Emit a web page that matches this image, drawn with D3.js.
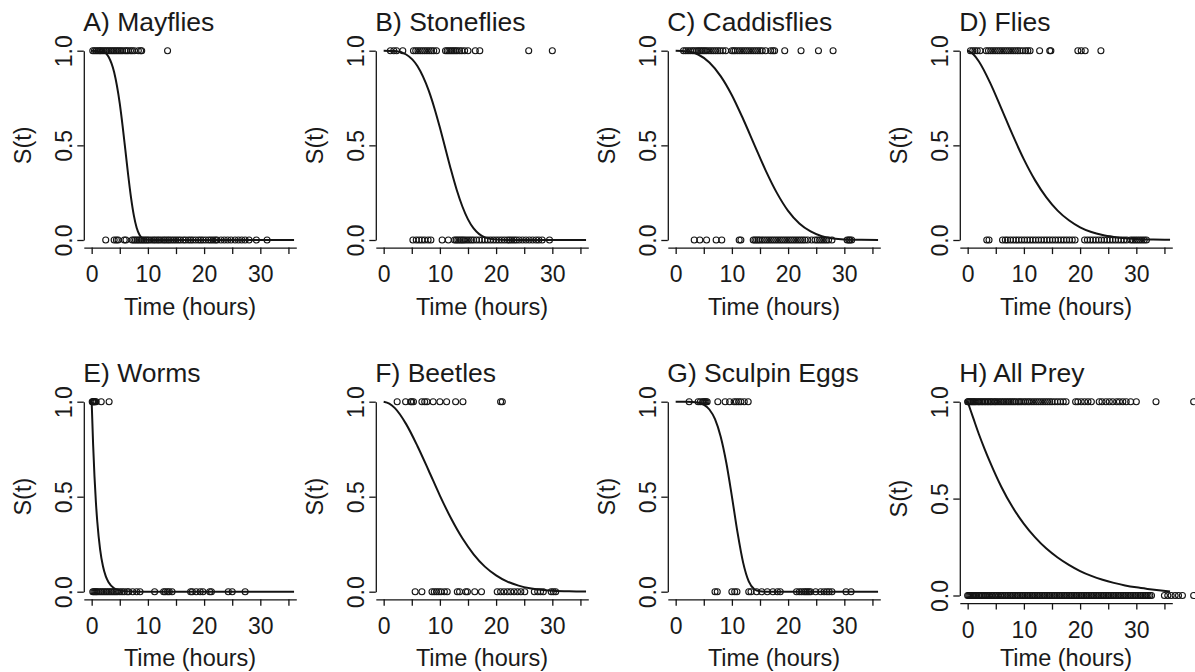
<!DOCTYPE html>
<html>
<head>
<meta charset="utf-8">
<script src="https://cdnjs.cloudflare.com/ajax/libs/d3/7.8.5/d3.min.js"></script>
<style>
  body { margin: 0; background: #ffffff; }
  svg text { font-family: "Liberation Sans", Arial, sans-serif; fill: #1a1a1a; }
</style>
</head>
<body>
<script>
// Panel titles
// =================================
var titles = ["A) Mayflies", "B) Stoneflies", "C) Caddisflies", "D) Flies",
    "E) Worms", "F) Beetles", "G) Sculpin Eggs", "H) All Prey"];

var xTicks = [0, 5, 10, 15, 20, 25, 30, 35];
var yTicks = [0, 0.5, 1];

// Observations (hours) plotted at S(t) = 1 and S(t) = 0
// =================================
var mayfliesOne = [0.2, 0.5, 0.8, 1.1, 1.4, 1.6, 1.9, 2.2, 2.5, 2.8, 3.1, 3.4, 3.7, 4.0, 4.3, 4.6, 4.9, 5.2, 5.5, 5.9, 6.2, 6.5, 6.9, 7.2, 7.6, 8.3, 8.7, 8.9, 13.5];
var mayfliesZero = [2.5, 4.0, 4.4, 4.7, 5.8, 6.1, 7.2, 7.5, 7.8, 8.1, 8.4, 8.7, 9.0, 9.3, 9.6, 9.9, 10.2, 10.6, 11.0, 11.3, 11.7, 12.0, 12.4, 12.8, 13.1, 13.5, 13.8, 14.2, 14.6, 15.0, 15.4, 15.8, 16.3, 16.7, 17.2, 17.6, 18.0, 18.5, 19.0, 19.4, 19.8, 20.3, 20.8, 21.2, 21.6, 22.0, 22.3, 23.0, 23.6, 24.2, 24.8, 25.5, 26.1, 26.7, 27.3, 28.0, 29.3, 31.2];

var stonefliesOne = [1.2, 1.8, 2.3, 3.4, 5.3, 5.7, 6.1, 6.5, 6.9, 7.3, 7.7, 8.1, 8.5, 8.9, 9.4, 11.0, 11.3, 11.6, 11.9, 12.2, 12.5, 12.8, 13.1, 13.5, 13.9, 14.4, 15.0, 16.3, 17.1, 25.8, 30.0];
var stonefliesZero = [5.2, 5.8, 6.3, 6.8, 7.3, 7.9, 8.4, 10.4, 11.5, 12.6, 12.9, 13.2, 13.5, 13.8, 14.1, 14.4, 14.8, 15.2, 15.6, 16.0, 16.5, 17.0, 17.5, 18.0, 18.5, 19.0, 19.5, 20.0, 20.5, 21.0, 21.5, 22.0, 22.4, 22.8, 23.2, 23.6, 24.1, 24.7, 25.3, 25.9, 26.5, 27.1, 27.6, 28.2, 29.5];

var caddisOne = [1.4, 1.8, 2.2, 2.6, 3.0, 3.3, 3.7, 4.0, 4.3, 4.6, 4.9, 5.2, 5.5, 5.9, 6.3, 6.7, 7.1, 7.5, 7.9, 8.4, 8.9, 10.0, 10.3, 10.6, 11.0, 11.4, 11.8, 12.2, 12.6, 13.0, 13.4, 13.8, 14.2, 14.6, 15.0, 15.4, 16.0, 16.9, 17.3, 17.6, 19.4, 22.3, 25.4, 28.0];
var caddisZero = [3.3, 4.3, 5.5, 7.2, 8.2, 11.3, 11.6, 13.8, 14.1, 14.4, 14.7, 15.0, 15.4, 15.8, 16.2, 16.6, 17.0, 17.4, 17.8, 18.2, 18.6, 19.0, 19.4, 19.8, 20.2, 20.6, 21.0, 21.4, 21.8, 22.2, 22.6, 23.0, 23.5, 24.2, 24.8, 25.2, 25.6, 26.0, 26.4, 26.8, 27.2, 27.8, 30.5, 30.8, 31.0, 31.3];

var fliesOne = [0.5, 0.9, 1.3, 1.7, 2.2, 3.3, 3.7, 4.1, 4.5, 4.9, 5.3, 5.7, 6.1, 6.5, 6.9, 7.3, 7.7, 8.1, 8.5, 8.9, 9.3, 9.8, 10.3, 10.7, 11.1, 12.8, 14.6, 14.8, 19.6, 20.2, 20.9, 23.7];
var fliesZero = [3.4, 3.8, 6.2, 6.7, 7.1, 7.6, 8.1, 8.6, 9.1, 9.6, 10.1, 10.6, 11.1, 11.6, 12.1, 12.6, 13.1, 13.6, 14.1, 14.6, 15.1, 15.6, 16.1, 16.6, 17.1, 17.6, 18.1, 18.6, 19.1, 20.8, 21.3, 21.8, 22.3, 22.8, 23.3, 23.8, 24.3, 24.8, 25.3, 25.8, 26.3, 26.8, 27.3, 27.8, 28.3, 29.0, 29.4, 29.8, 30.2, 30.6, 31.0, 31.4, 31.8];

var wormsOne = [0.1, 0.2, 0.3, 0.4, 0.5, 0.6, 0.8, 1.7, 3.1];
var wormsZero = [0.2, 0.4, 0.6, 0.8, 1.0, 1.3, 1.6, 1.9, 2.2, 2.5, 2.8, 3.1, 3.4, 3.7, 4.0, 4.3, 4.6, 5.0, 5.4, 5.8, 6.3, 6.6, 7.3, 8.0, 8.6, 11.2, 12.8, 13.1, 13.5, 13.8, 14.3, 17.6, 17.9, 18.6, 19.3, 19.8, 21.0, 21.3, 24.3, 25.0, 27.3];

var beetlesOne = [2.4, 3.9, 4.8, 5.0, 5.3, 6.8, 7.3, 7.7, 8.8, 10.0, 11.2, 12.8, 14.1, 20.8, 21.1];
var beetlesZero = [5.6, 6.8, 8.6, 9.0, 9.4, 9.8, 10.2, 10.8, 11.3, 13.1, 13.5, 14.6, 14.9, 16.2, 17.4, 20.2, 20.8, 21.4, 22.0, 22.6, 23.2, 23.8, 24.4, 25.1, 26.8, 27.4, 27.9, 28.4, 29.8, 30.2, 30.6];

var eggsOne = [2.4, 4.0, 4.4, 4.8, 5.0, 5.2, 5.4, 5.6, 7.5, 8.8, 9.6, 10.4, 10.8, 11.2, 11.6, 12.2, 12.9];
var eggsZero = [7.0, 7.4, 10.0, 10.5, 10.9, 13.0, 13.4, 14.4, 15.3, 16.3, 17.3, 18.1, 18.6, 21.5, 22.0, 22.4, 22.8, 23.1, 23.4, 23.7, 24.0, 24.9, 25.8, 26.4, 26.9, 27.3, 27.8, 30.3, 31.2];

var allPreyOne = [0.0, 0.1, 0.3, 0.5, 0.7, 0.9, 1.1, 1.3, 1.5, 1.8, 2.0, 2.2, 2.5, 2.7, 3.0, 3.2, 3.5, 3.7, 4.0, 4.2, 4.5, 4.8, 5.0, 5.3, 5.6, 5.9, 6.2, 6.5, 6.8, 7.1, 7.4, 7.7, 8.0, 8.3, 8.6, 9.0, 9.3, 9.6, 10.0, 10.3, 10.7, 11.0, 11.4, 11.8, 12.2, 12.6, 13.0, 13.4, 13.8, 14.2, 14.6, 15.0, 15.5, 16.0, 16.5, 17.0, 17.5, 19.2, 19.6, 20.2, 20.8, 21.4, 22.0, 23.4, 23.9, 24.6, 25.2, 25.8, 26.5, 27.0, 27.6, 28.2, 29.0, 30.0, 33.5, 40.2];
var allPreyZero = [0.0, 0.2, 0.4, 0.6, 0.8, 1.0, 1.2, 1.4, 1.6, 1.9, 2.1, 2.4, 2.6, 2.9, 3.1, 3.4, 3.6, 3.9, 4.2, 4.4, 4.7, 5.0, 5.2, 5.5, 5.8, 6.0, 6.3, 6.6, 6.9, 7.2, 7.5, 7.8, 8.1, 8.4, 8.7, 9.0, 9.3, 9.6, 9.9, 10.2, 10.5, 10.8, 11.1, 11.4, 11.7, 12.0, 12.3, 12.6, 12.9, 13.2, 13.5, 13.8, 14.1, 14.4, 14.7, 15.0, 15.3, 15.6, 15.9, 16.2, 16.5, 16.8, 17.1, 17.4, 17.7, 18.0, 18.3, 18.6, 18.9, 19.2, 19.5, 19.8, 20.1, 20.4, 20.7, 21.0, 21.3, 21.6, 21.9, 22.2, 22.5, 22.8, 23.1, 23.4, 23.7, 24.0, 24.3, 24.6, 24.9, 25.2, 25.5, 25.8, 26.1, 26.4, 26.7, 27.0, 27.3, 27.6, 27.9, 28.2, 28.5, 28.8, 29.1, 29.4, 29.7, 30.0, 30.3, 30.6, 30.9, 31.2, 31.5, 31.8, 32.1, 32.4, 32.7, 35.0, 35.6, 36.2, 36.9, 37.5, 38.2, 40.2];

// Fitted survival curves: hours and S(t)
// =================================
var mayfliesCurveT = [0, 2, 3, 4, 5, 5.5, 6, 6.5, 7, 7.5, 8, 8.5, 9, 10, 11, 13, 36];
var mayfliesCurveS = [1, 0.995, 0.968, 0.886, 0.72, 0.603, 0.473, 0.342, 0.224, 0.13, 0.065, 0.028, 0.01, 0.001, 0, 0, 0];

var stonefliesCurveT = [0, 2, 4, 6, 8, 9, 10, 11, 12, 13, 14, 15, 16, 17, 18, 20, 22, 25, 36];
var stonefliesCurveS = [1, 0.998, 0.98, 0.919, 0.79, 0.699, 0.594, 0.481, 0.368, 0.264, 0.177, 0.109, 0.061, 0.031, 0.014, 0.002, 0.0003, 0, 0];

var caddisCurveT = [0, 2, 4, 6, 8, 10, 12, 14, 16, 18, 20, 22, 24, 26, 28, 30, 33, 36];
var caddisCurveS = [1, 0.997, 0.98, 0.938, 0.866, 0.765, 0.639, 0.503, 0.368, 0.249, 0.154, 0.087, 0.045, 0.02, 0.008, 0.003, 0.001, 0.0003];

var fliesCurveT = [0, 1, 2, 4, 6, 8, 10, 12, 14, 16, 18, 20, 22, 24, 26, 28, 30, 33, 36];
var fliesCurveS = [1, 0.981, 0.943, 0.83, 0.694, 0.555, 0.426, 0.315, 0.225, 0.155, 0.104, 0.067, 0.042, 0.026, 0.016, 0.009, 0.005, 0.002, 0.001];

var wormsCurveT = [0, 0.25, 0.5, 0.75, 1, 1.5, 2, 2.5, 3, 4, 5, 6, 8, 10, 36];
var wormsCurveS = [1, 0.78, 0.607, 0.472, 0.368, 0.223, 0.135, 0.082, 0.05, 0.018, 0.007, 0.0025, 0.0003, 0, 0];

var beetlesCurveT = [0, 1, 2, 4, 6, 8, 10, 12, 14, 16, 18, 20, 22, 24, 26, 28, 30, 33, 36];
var beetlesCurveS = [1, 0.99, 0.966, 0.882, 0.767, 0.638, 0.506, 0.385, 0.281, 0.197, 0.132, 0.086, 0.053, 0.032, 0.018, 0.01, 0.0055, 0.002, 0.0007];

var eggsCurveT = [0, 2, 4, 5, 6, 7, 8, 9, 10, 11, 12, 13, 14, 15, 16, 36];
var eggsCurveS = [1, 1, 0.996, 0.985, 0.959, 0.908, 0.817, 0.68, 0.502, 0.312, 0.153, 0.054, 0.013, 0.002, 0, 0];

var allPreyCurveT = [0, 0.5, 1, 2, 3, 4, 6, 8, 10, 12, 14, 16, 18, 20, 22, 24, 26, 28, 30, 32, 34, 36];
var allPreyCurveS = [1, 0.957, 0.915, 0.832, 0.757, 0.687, 0.56, 0.455, 0.37, 0.30, 0.242, 0.196, 0.158, 0.126, 0.101, 0.081, 0.065, 0.052, 0.042, 0.034, 0.027, 0.021];

// Build the panel table from the arrays above
// =================================
var ones = [mayfliesOne, stonefliesOne, caddisOne, fliesOne, wormsOne, beetlesOne, eggsOne, allPreyOne];
var zeros = [mayfliesZero, stonefliesZero, caddisZero, fliesZero, wormsZero, beetlesZero, eggsZero, allPreyZero];
var curveTs = [mayfliesCurveT, stonefliesCurveT, caddisCurveT, fliesCurveT, wormsCurveT, beetlesCurveT, eggsCurveT, allPreyCurveT];
var curveSs = [mayfliesCurveS, stonefliesCurveS, caddisCurveS, fliesCurveS, wormsCurveS, beetlesCurveS, eggsCurveS, allPreyCurveS];

var panels = titles.map(function (t, i) {
    return {
        title: t,
        ones: ones[i],
        zeros: zeros[i],
        curve: curveTs[i].map(function (h, j) { return [h, curveSs[i][j]]; })
    };
});

// SVG area
// =================================
var svgWidth = 1195;
var svgHeight = 672;

var svg = d3.select("body")
    .append("svg")
    .attr("width", svgWidth)
    .attr("height", svgHeight);

var colStep = 292;
var plotLeft = 83.8;
var plotWidth = 212.5;
var rowOne = [50.7, 401.7];     // pixel y of S(t) = 1
var rowZero = [240, 591.7];     // pixel y of S(t) = 0
var titleY = [31, 382];
var xLabelY = [315, 666];
var ink = "#141414";

panels.forEach(function (p, i) {
    var col = i % 4;
    var row = Math.floor(i / 4);
    var left = plotLeft + col * colStep;

    var zeroY = (i === 7) ? 595.5 : rowZero[row];

    var xScale = d3.scaleLinear()
        .domain([-1.4, 36.4])
        .range([left, left + plotWidth]);

    var yScale = d3.scaleLinear()
        .domain([0, 1])
        .range([zeroY, rowOne[row]]);

    var g = svg.append("g");

    // x axis
    var xAxis = g.append("g")
        .attr("transform", `translate(0, ${zeroY + 7.6})`)
        .call(d3.axisBottom(xScale)
            .tickValues(xTicks)
            .tickFormat(d => d % 10 === 0 ? d : "")
            .tickSize(6.5)
            .tickSizeOuter(0));

    // y axis
    var yAxis = g.append("g")
        .attr("transform", `translate(${left}, 0)`)
        .call(d3.axisLeft(yScale)
            .tickValues(yTicks)
            .tickFormat(d3.format(".1f"))
            .tickSize(6.5)
            .tickSizeOuter(0));

    [xAxis, yAxis].forEach(function (ax) {
        ax.select(".domain").attr("stroke", ink).attr("stroke-width", 1.3);
        ax.selectAll(".tick line").attr("stroke", ink).attr("stroke-width", 1.3);
        ax.selectAll(".tick text")
            .attr("font-size", 23)
            .attr("font-family", "Liberation Sans, Arial, sans-serif")
            .attr("fill", ink);
    });

    xAxis.selectAll(".tick text").attr("y", 18.5);

    yAxis.selectAll(".tick text")
        .attr("x", 0)
        .attr("dy", 0)
        .attr("y", -12)
        .attr("text-anchor", "middle")
        .attr("transform", "rotate(-90)");

    // title, axis labels
    g.append("text")
        .attr("x", left - 0.5)
        .attr("y", titleY[row])
        .attr("font-size", 26.5)
        .text(p.title);

    g.append("text")
        .attr("x", left + plotWidth / 2)
        .attr("y", xLabelY[row])
        .attr("text-anchor", "middle")
        .attr("font-size", 23.5)
        .text("Time (hours)");

    var midY = (yScale(1.04) + yScale(-0.04)) / 2;
    g.append("text")
        .attr("transform", `translate(${31 + col * colStep}, ${midY}) rotate(-90)`)
        .attr("text-anchor", "middle")
        .attr("font-size", 23.5)
        .text("S(t)");

    // observations
    g.selectAll(".one")
        .data(p.ones)
        .enter()
        .append("circle")
        .attr("class", "one")
        .attr("cx", d => xScale(d))
        .attr("cy", yScale(1))
        .attr("r", 3)
        .attr("fill", "none")
        .attr("stroke", ink)
        .attr("stroke-width", 1.1);

    g.selectAll(".zero")
        .data(p.zeros)
        .enter()
        .append("circle")
        .attr("class", "zero")
        .attr("cx", d => xScale(d))
        .attr("cy", yScale(0))
        .attr("r", 3)
        .attr("fill", "none")
        .attr("stroke", ink)
        .attr("stroke-width", 1.1);

    // fitted curve
    var line = d3.line()
        .x(d => xScale(d[0]))
        .y(d => yScale(d[1]))
        .curve(d3.curveMonotoneX);

    g.append("path")
        .datum(p.curve)
        .attr("d", line)
        .attr("fill", "none")
        .attr("stroke", ink)
        .attr("stroke-width", 2);
});
</script>
</body>
</html>
